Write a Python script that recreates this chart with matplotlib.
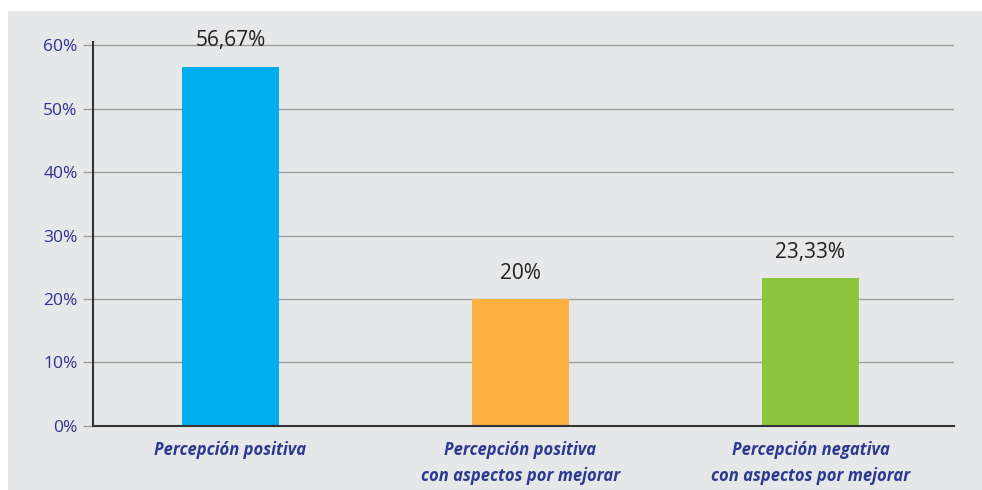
import matplotlib.pyplot as plt
from matplotlib.patches import Rectangle

categories = [
    "Percepción positiva",
    "Percepción positiva\ncon aspectos por mejorar",
    "Percepción negativa\ncon aspectos por mejorar",
]
values = [56.67, 20.0, 23.33]
value_labels = ["56,67%", "20%", "23,33%"]
bar_colors = ["#00aeef", "#fbb040", "#8dc63f"]
y_ticks = [0, 10, 20, 30, 40, 50, 60]

panel_color = "#e6e7e8"
tick_color = "#2e3192"
label_color = "#2b3990"

plt.rcParams["font.family"] = ["Open Sans", "DejaVu Sans"]

fig = plt.figure(figsize=(9.82, 4.90), dpi=100)
fig.patch.set_facecolor("white")
# gray panel behind the chart
fig.patches.append(
    Rectangle((8 / 982, 0), 1, 1 - 11 / 490, transform=fig.transFigure,
              facecolor=panel_color, edgecolor="none", zorder=-10)
)

ax = fig.add_axes([93 / 982, 1 - 425.7 / 490, (954 - 93) / 982, (425.7 - 42.3) / 490])
ax.set_facecolor("none")
ax.set_zorder(1)

positions = list(range(len(categories)))
ax.bar(positions, values, width=0.334, color=bar_colors, zorder=3)

for pos, val, text in zip(positions, values, value_labels):
    ax.annotate(text, (pos, val), xytext=(0, 11), textcoords="offset points",
                ha="center", va="bottom", fontsize=15, color="#231f20")

ax.set_xlim(-0.474, 2.495)
ax.set_ylim(0, 60.5)
ax.set_yticks(y_ticks)
ax.set_yticklabels([f"{t}%" for t in y_ticks], fontsize=12.5, color=tick_color)
ax.tick_params(axis="y", length=7, width=1, color="#a0a0a0", pad=4)
ax.yaxis.grid(True, color="#a0a0a0", linewidth=1)
ax.set_axisbelow(True)

ax.set_xticks(positions)
ax.set_xticklabels(categories, fontsize=12, fontweight="bold", fontstyle="italic",
                   color=label_color, linespacing=1.6)
ax.tick_params(axis="x", length=0, pad=11)

for side in ("top", "right"):
    ax.spines[side].set_visible(False)
for side in ("left", "bottom"):
    ax.spines[side].set_color("#333333")
    ax.spines[side].set_linewidth(1.5)
    ax.spines[side].set_zorder(4)

fig.savefig("out.png", dpi=100)
